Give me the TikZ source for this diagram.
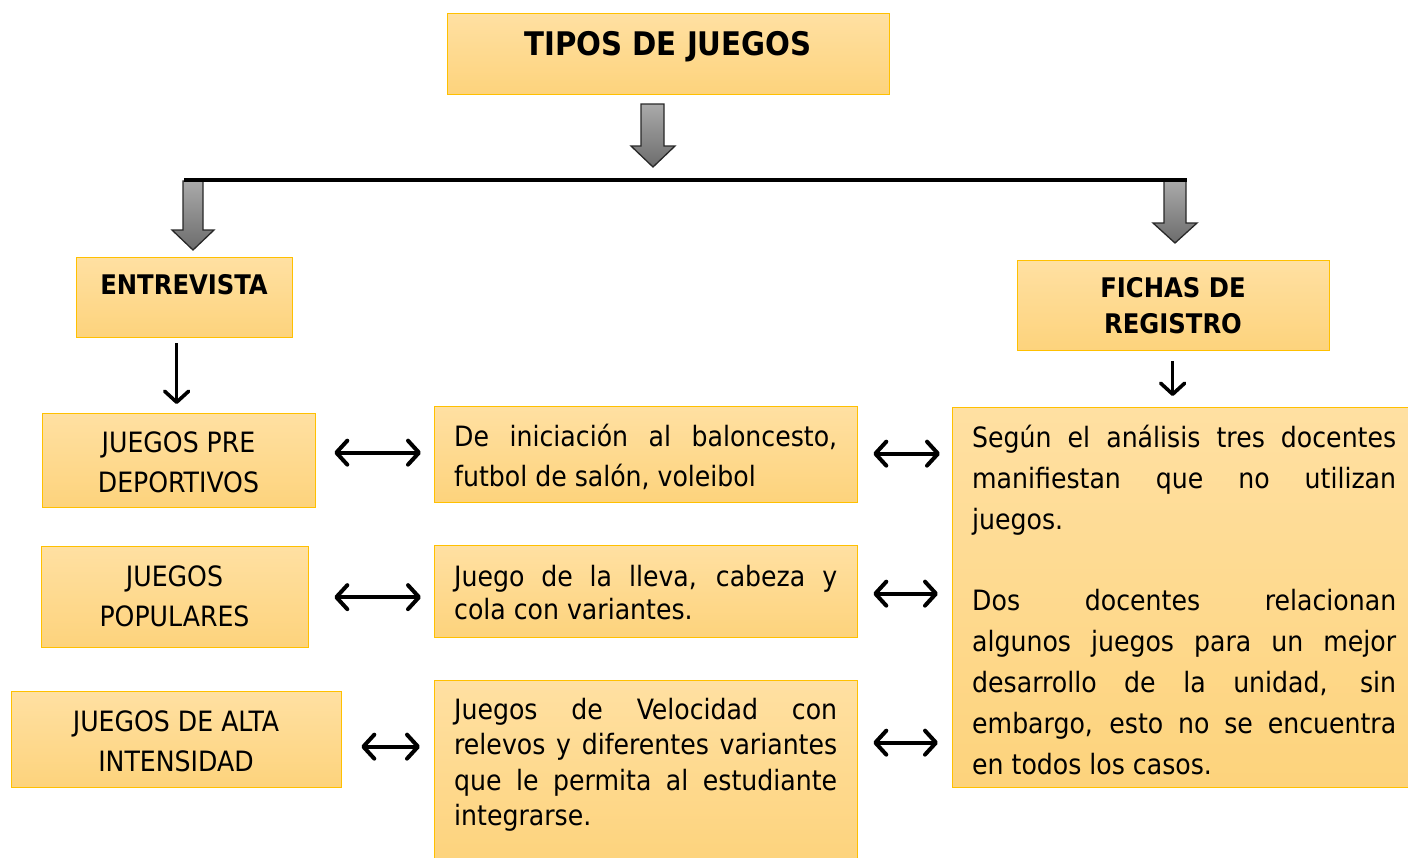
\documentclass[tikz,border=0pt]{standalone}
\usepackage{fontspec}
\setmainfont{DejaVu Sans Condensed}
\usetikzlibrary{arrows.meta}
\definecolor{bordergold}{RGB}{255,192,0}
\definecolor{filltop}{RGB}{255,224,162}
\definecolor{fillbot}{RGB}{253,211,124}
\definecolor{graytop}{RGB}{170,170,170}
\definecolor{graybot}{RGB}{108,108,108}
\definecolor{grayline}{RGB}{40,40,40}
\hyphenpenalty=10000
\exhyphenpenalty=10000
\tolerance=10000
\hbadness=10000
\setlength{\parindent}{0pt}
\newcommand\myrf[2]{\fontsize{#1}{#2}\selectfont}
\newcommand\mybf[2]{\fontsize{#1}{#2}\selectfont\bfseries}
\newcommand\barrowdown[7]{\draw[blockarrow] (#1,#3) -- (#2,#3) -- (#2,#4) -- (#6,#4) -- ({(#5+#6)/2},#7) -- (#5,#4) -- (#1,#4) -- cycle;}
\begin{document}
\begin{tikzpicture}[x=1pt,y=-1pt,
  box/.style={draw=bordergold, line width=1.3pt, top color=filltop, bottom color=fillbot, rectangle, inner sep=0pt, anchor=north west},
  txt/.style={inner sep=0pt, text=black},
  jtxt/.style={txt, anchor=north west, align=justify, text width=#1},
  blockarrow/.style={draw=grayline, line width=1.3pt, top color=graytop, bottom color=graybot, line join=miter},
  tipb/.tip={Straight Barb[length=11pt,width=24pt,round]},
  dbl/.style={line width=4pt, tipb-tipb},
  down/.style={line width=3.6pt, -tipb}
]
\useasboundingbox (0,0) rectangle (1408,857);

% gray block arrows and bar
\barrowdown{641}{664}{104}{146}{631}{675}{167}
\barrowdown{183}{203}{181}{230}{172}{214}{250}
\barrowdown{1164}{1186}{181}{223}{1153}{1197}{243}
\coordinate (hl) at (184,180);
\coordinate (hr) at (1187,180);
\draw[line width=3.5pt] (hl) -- (hr);

% boxes
\node[box, minimum width=442pt, minimum height=81pt] (title) at (447,13) {};
\node[box, minimum width=216pt, minimum height=80pt] (entrevista) at (76,257) {};
\node[box, minimum width=312pt, minimum height=90pt] (fichas) at (1017,260) {};
\node[box, minimum width=273pt, minimum height=94pt] (jpre) at (42,413) {};
\node[box, minimum width=267pt, minimum height=101pt] (jpop) at (41,546) {};
\node[box, minimum width=330pt, minimum height=96pt] (jalta) at (11,691) {};
\node[box, minimum width=423pt, minimum height=96pt] (m1) at (434,406) {};
\node[box, minimum width=423pt, minimum height=92pt] (m2) at (434,545) {};
\node[box, minimum width=423pt, minimum height=184pt] (m3) at (434,680) {};
\node[box, minimum width=462pt, minimum height=380pt] (der) at (952,407) {};

% texts
\node[txt, font={\mybf{32.5}{38}}, anchor=base] (title-t) at (668,55) {TIPOS DE JUEGOS};
\node[txt, font={\mybf{27}{36}}, anchor=base] (entrevista-t) at (184,294) {ENTREVISTA};
\node[txt, font={\mybf{27}{36}}, anchor=north, align=center] (fichas-t) at (1173,271.8) {\strut FICHAS DE\\REGISTRO};
\node[txt, font={\myrf{28}{40}}, anchor=north, align=center] (jpre-t) at (178.5,424) {\strut JUEGOS PRE\\DEPORTIVOS};
\node[txt, font={\myrf{28}{40}}, anchor=north, align=center] (jpop-t) at (174.5,558) {\strut JUEGOS\\POPULARES};
\node[txt, font={\myrf{28}{40}}, anchor=north, align=center] (jalta-t) at (176,703) {\strut JUEGOS DE ALTA\\INTENSIDAD};
\node[jtxt=383pt, font={\myrf{28}{40}}] (m1-t) at (454,418) {\strut De iniciación al baloncesto,\linebreak futbol de salón, voleibol};
\node[jtxt=383pt, font={\myrf{28}{33}}] (m2-t) at (454,562.9) {\strut Juego de la lleva, cabeza y\linebreak cola con variantes.};
\node[jtxt=383pt, font={\myrf{28}{35.3}}] (m3-t) at (454,694.6) {\strut Juegos de Velocidad con\linebreak relevos y diferentes variantes\linebreak que le permita al estudiante\linebreak integrarse.};
\node[jtxt=424pt, font={\myrf{28}{40.9}}] (der-t) at (972,418.4) {\strut Según el análisis tres docentes\linebreak manifiestan que no utilizan\linebreak juegos.\par\mbox{}\par Dos docentes relacionan\linebreak algunos juegos para un mejor\linebreak desarrollo de la unidad, sin\linebreak embargo, esto no se encuentra\linebreak en todos los casos.};

% thin down arrows
\draw[down, shorten <=5pt, shorten >=9pt] ([xshift=-8pt]entrevista.south) -- ([xshift=-8pt]entrevista.south |- jpre.north);
\draw[down, shorten <=10pt, shorten >=11pt] ([xshift=-1pt]fichas.south) -- ([xshift=-1pt]fichas.south |- der.north);

% double arrows
\draw[dbl, shorten <=18pt, shorten >=13pt] ([yshift=8pt]jpre.east) -- ([yshift=8pt]jpre.east -| m1.west);
\draw[dbl, shorten <=25pt, shorten >=13pt] (jpop.east) -- (jpop.east -| m2.west);
\draw[dbl, shorten <=19pt, shorten >=14pt] ([yshift=-7pt]jalta.east) -- ([yshift=-7pt]jalta.east -| m3.west);
\draw[dbl, shorten <=15pt, shorten >=12pt] ([yshift=1pt]m1.east) -- ([yshift=1pt]m1.east -| der.west);
\draw[dbl, shorten <=15pt, shorten >=14pt] ([yshift=-2pt]m2.east) -- ([yshift=-2pt]m2.east -| der.west);
\draw[dbl, shorten <=15pt, shorten >=14pt] ([yshift=30pt]m3.east) -- ([yshift=30pt]m3.east -| der.west);
\end{tikzpicture}
\end{document}
